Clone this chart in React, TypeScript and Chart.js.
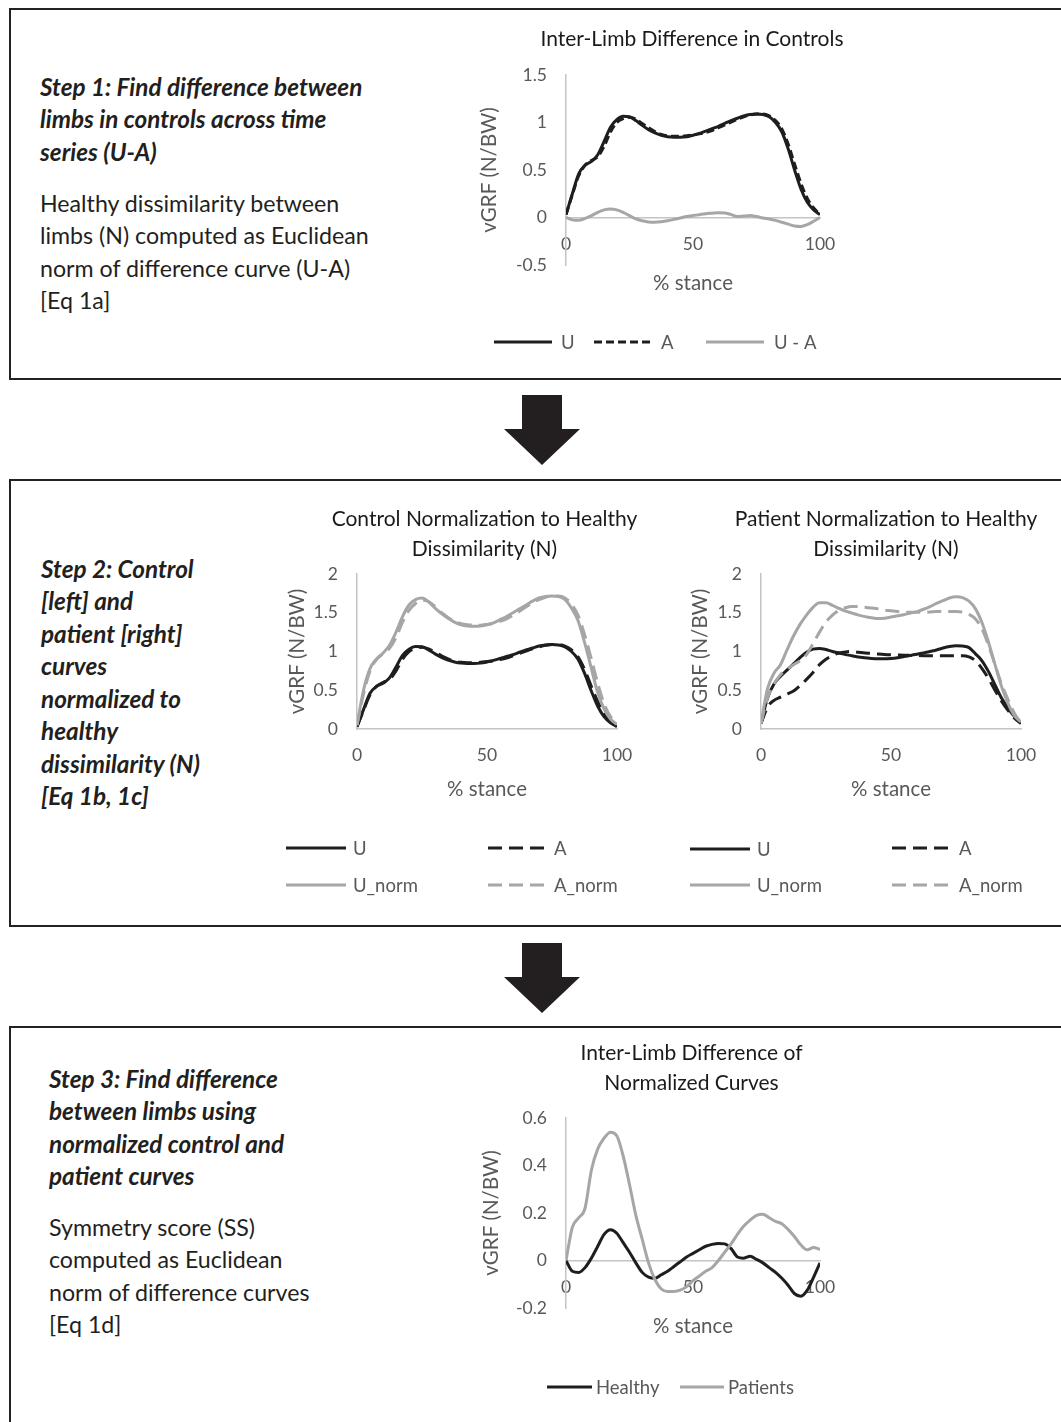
import React, { useEffect, useRef } from 'react';
import { Chart, registerables } from 'chart.js';

Chart.register(...registerables);

// ---------------- data ----------------
const stance = [0, 2.5, 5, 7.5, 10, 12.5, 15, 17.5, 20, 22.5, 25, 27.5, 30, 32.5, 35, 37.5, 40, 42.5, 45, 47.5, 50, 52.5, 55, 57.5, 60, 62.5, 65, 67.5, 70, 72.5, 75, 77.5, 80, 82.5, 85, 87.5, 90, 92.5, 95, 97.5, 100];
const xTicks = [0, 50, 100];
const yTicksStep1 = [-0.5, 0, 0.5, 1, 1.5];
const yTicksStep2 = [0, 0.5, 1, 1.5, 2];
const yTicksStep3 = [-0.2, 0, 0.2, 0.4, 0.6];

const ctrlU = [0.03, 0.25, 0.46, 0.55, 0.59, 0.66, 0.8, 0.95, 1.03, 1.065, 1.06, 1.02, 0.97, 0.925, 0.89, 0.865, 0.85, 0.845, 0.845, 0.85, 0.865, 0.885, 0.91, 0.935, 0.96, 0.99, 1.02, 1.045, 1.07, 1.085, 1.09, 1.085, 1.06, 1.0, 0.9, 0.72, 0.5, 0.3, 0.16, 0.08, 0.03];
const ctrlA = [0.03, 0.24, 0.44, 0.55, 0.6, 0.64, 0.75, 0.9, 1.0, 1.04, 1.055, 1.035, 0.99, 0.945, 0.905, 0.875, 0.86, 0.855, 0.855, 0.86, 0.87, 0.88, 0.895, 0.915, 0.945, 0.975, 1.005, 1.035, 1.06, 1.08, 1.09, 1.09, 1.07, 1.02, 0.93, 0.77, 0.56, 0.36, 0.2, 0.1, 0.03];
const ctrlDiff = [0, -0.025, -0.03, -0.01, 0.02, 0.055, 0.08, 0.09, 0.08, 0.055, 0.02, -0.015, -0.035, -0.048, -0.05, -0.045, -0.035, -0.02, -0.005, 0.01, 0.02, 0.03, 0.04, 0.045, 0.05, 0.048, 0.03, 0.01, 0.015, 0.02, 0.01, -0.005, -0.015, -0.03, -0.05, -0.07, -0.09, -0.095, -0.075, -0.04, 0];

const ctrlUNorm = [0.05, 0.5, 0.78, 0.9, 0.98, 1.08, 1.25, 1.45, 1.6, 1.67, 1.69, 1.64, 1.56, 1.49, 1.43, 1.38, 1.345, 1.33, 1.325, 1.33, 1.345, 1.37, 1.41, 1.45, 1.5, 1.55, 1.6, 1.65, 1.69, 1.71, 1.715, 1.71, 1.67, 1.56, 1.4, 1.12, 0.8, 0.48, 0.26, 0.13, 0.06];
const ctrlANorm = [0.05, 0.45, 0.75, 0.9, 0.97, 1.04, 1.18, 1.38, 1.53, 1.62, 1.66, 1.645, 1.58, 1.5, 1.44, 1.39, 1.36, 1.345, 1.34, 1.34, 1.35, 1.365, 1.39, 1.42, 1.47, 1.52, 1.575, 1.63, 1.67, 1.7, 1.715, 1.715, 1.69, 1.61, 1.47, 1.22, 0.92, 0.6, 0.33, 0.16, 0.07];

const patU = [0.07, 0.4, 0.58, 0.68, 0.76, 0.84, 0.92, 0.99, 1.03, 1.04, 1.025, 1.0, 0.98, 0.96, 0.945, 0.93, 0.92, 0.91, 0.905, 0.905, 0.91, 0.92, 0.935, 0.95, 0.965, 0.98, 1.0, 1.02, 1.045, 1.065, 1.075, 1.07, 1.05, 0.97, 0.88, 0.74, 0.57, 0.4, 0.27, 0.16, 0.08];
const patA = [0.07, 0.28, 0.37, 0.41, 0.45, 0.49, 0.56, 0.64, 0.73, 0.83, 0.9, 0.95, 0.98, 0.995, 1.0, 0.99, 0.98, 0.975, 0.968, 0.962, 0.958, 0.955, 0.952, 0.95, 0.948, 0.946, 0.945, 0.945, 0.945, 0.945, 0.945, 0.945, 0.93, 0.88, 0.78, 0.65, 0.5, 0.36, 0.24, 0.14, 0.07];
const patUNorm = [0.07, 0.52, 0.72, 0.83, 1.02, 1.2, 1.35, 1.47, 1.57, 1.63, 1.63, 1.595, 1.555, 1.52, 1.495, 1.47, 1.45, 1.435, 1.425, 1.43, 1.445, 1.46, 1.475, 1.495, 1.515, 1.545, 1.58, 1.62, 1.655, 1.69, 1.705, 1.695, 1.65, 1.55, 1.37, 1.12, 0.83, 0.55, 0.33, 0.17, 0.09];
const patANorm = [0.07, 0.4, 0.58, 0.7, 0.77, 0.83, 0.88, 0.96, 1.1, 1.25, 1.38, 1.47, 1.53, 1.565, 1.58, 1.58, 1.57, 1.56, 1.55, 1.535, 1.525, 1.515, 1.51, 1.505, 1.505, 1.505, 1.51, 1.515, 1.515, 1.515, 1.515, 1.51, 1.48, 1.42, 1.29, 1.08, 0.83, 0.58, 0.38, 0.2, 0.08];

const healthyDiff = [0, -0.045, -0.05, -0.03, 0.01, 0.06, 0.11, 0.13, 0.115, 0.075, 0.035, -0.01, -0.05, -0.07, -0.075, -0.06, -0.045, -0.025, -0.005, 0.015, 0.03, 0.045, 0.06, 0.068, 0.072, 0.07, 0.05, 0.015, 0.01, 0.018, 0.005, -0.01, -0.03, -0.05, -0.075, -0.105, -0.14, -0.15, -0.125, -0.07, -0.01];
const patientDiff = [0, 0.14, 0.18, 0.22, 0.38, 0.47, 0.515, 0.54, 0.525, 0.44, 0.32, 0.19, 0.09, -0.01, -0.08, -0.12, -0.13, -0.13, -0.125, -0.11, -0.085, -0.065, -0.045, -0.03, 0.0, 0.035, 0.07, 0.11, 0.145, 0.17, 0.19, 0.195, 0.18, 0.165, 0.155, 0.13, 0.1, 0.065, 0.045, 0.055, 0.046];

// ---------------- styles ----------------
const FONT = 'Lato, "Open Sans", sans-serif';
const BLACK = '#1e1e1e';
const GRAY = '#a6a6a6';
const AXIS = '#c4c4c4';
const TICK = '#595959';
const TEXT = '#231f20';
const AXIS_TITLE_SIZE = 20.5;
const AXIS_TITLE_HALF = (AXIS_TITLE_SIZE * 1.2) / 2;

type DS = { label: string; values: number[]; color: string; dash?: number[] };
type LegendItem = { ds: number; x: number; y: number; len: number; gap: number };
type Spec = {
  datasets: DS[];
  title: string[];
  titleY: number;
  titleDx: number;
  pad: { left: number; right: number; top: number; bottom: number };
  yMin: number;
  yMax: number;
  yTicks: number[];
  yWidth: number;
  yTitleCenter: number;
  xAtZero: boolean;
  xTitleOffset: number;
  legend: LegendItem[];
};

function legendPlugin(items: LegendItem[]) {
  return {
    id: 'manualLegend',
    afterDraw(chart: any) {
      const ctx = chart.ctx;
      items.forEach((it) => {
        const ds = chart.data.datasets[it.ds];
        ctx.save();
        ctx.strokeStyle = ds.borderColor;
        ctx.lineWidth = ds.borderWidth;
        ctx.setLineDash(ds.borderDash || []);
        ctx.beginPath();
        ctx.moveTo(it.x, it.y);
        ctx.lineTo(it.x + it.len, it.y);
        ctx.stroke();
        ctx.setLineDash([]);
        ctx.fillStyle = TICK;
        ctx.font = `18.5px ${FONT}`;
        ctx.textBaseline = 'middle';
        ctx.textAlign = 'left';
        ctx.fillText(ds.label, it.x + it.len + it.gap, it.y + 1);
        ctx.restore();
      });
    },
  };
}

// chart title centred over the plot area (no width squeezing)
function titlePlugin(lines: string[], y0: number, dx: number) {
  return {
    id: 'centerTitle',
    afterDraw(chart: any) {
      const ctx = chart.ctx;
      const cx = (chart.chartArea.left + chart.chartArea.right) / 2 + dx;
      ctx.save();
      ctx.fillStyle = '#1a1a1a';
      ctx.font = `21px ${FONT}`;
      ctx.textAlign = 'center';
      ctx.textBaseline = 'middle';
      lines.forEach((l, i) => ctx.fillText(l, cx, y0 + i * 30));
      ctx.restore();
    },
  };
}

function buildConfig(spec: Spec): any {
  return {
    type: 'line',
    data: {
      datasets: spec.datasets.map((d, i) => ({
        label: d.label,
        data: stance.map((x, j) => ({ x, y: d.values[j] })),
        borderColor: d.color,
        backgroundColor: d.color,
        borderWidth: 3,
        borderDash: d.dash || [],
        borderJoinStyle: 'round',
        pointRadius: 0,
        cubicInterpolationMode: 'monotone',
        fill: false,
        order: -i,
      })),
    },
    options: {
      responsive: false,
      animation: false,
      devicePixelRatio: 1,
      layout: { padding: spec.pad },
      plugins: {
        legend: { display: false },
        tooltip: { enabled: false },
        title: { display: false },
      },
      scales: {
        x: {
          type: 'linear',
          min: 0,
          max: 100,
          position: spec.xAtZero ? { y: 0 } : 'bottom',
          afterBuildTicks: (s: any) => {
            s.ticks = xTicks.map((v) => ({ value: v }));
          },
          afterFit: (s: any) => {
            s.height = spec.xTitleOffset + AXIS_TITLE_HALF;
          },
          grid: { display: false, drawTicks: false },
          border: { display: true, color: AXIS, width: 1.5 },
          ticks: {
            color: TICK,
            font: { family: FONT, size: 17.5 },
            padding: 16,
            maxRotation: 0,
            autoSkip: false,
            callback: (v: any) => String(v),
          },
          title: {
            display: true,
            text: '% stance',
            color: TICK,
            font: { family: FONT, size: AXIS_TITLE_SIZE, lineHeight: 1.2 },
            padding: { top: 0, bottom: 0 },
          },
        },
        y: {
          type: 'linear',
          min: spec.yMin,
          max: spec.yMax,
          position: 'left',
          afterBuildTicks: (s: any) => {
            s.ticks = spec.yTicks.map((v) => ({ value: v }));
          },
          afterFit: (s: any) => {
            s.width = spec.yWidth;
          },
          grid: { display: false, drawTicks: false },
          border: { display: true, color: AXIS, width: 1.5 },
          ticks: {
            color: TICK,
            font: { family: FONT, size: 17.5 },
            padding: 19,
            autoSkip: false,
            callback: (v: any) => String(v),
          },
          title: {
            display: true,
            text: 'vGRF (N/BW)',
            color: TICK,
            font: { family: FONT, size: AXIS_TITLE_SIZE, lineHeight: 1.2 },
            padding: { top: spec.yTitleCenter - AXIS_TITLE_HALF, bottom: 0 },
          },
        },
      },
    },
    plugins: [titlePlugin(spec.title, spec.titleY, spec.titleDx), legendPlugin(spec.legend)],
  };
}

function ChartCanvas(props: { left: number; top: number; width: number; height: number; spec: Spec }) {
  const ref = useRef<HTMLCanvasElement | null>(null);
  useEffect(() => {
    if (!ref.current) return;
    const chart = new Chart(ref.current, buildConfig(props.spec));
    return () => chart.destroy();
  }, []);
  return (
    <canvas
      ref={ref}
      width={props.width}
      height={props.height}
      style={{ position: 'absolute', left: props.left, top: props.top, width: props.width, height: props.height }}
    />
  );
}

// chart specs (positions in canvas pixels)
const spec1: Spec = {
  datasets: [
    { label: 'U', values: ctrlU, color: BLACK },
    { label: 'A', values: ctrlA, color: BLACK, dash: [8, 4] },
    { label: 'U - A', values: ctrlDiff, color: GRAY },
  ],
  title: ['Inter-Limb Difference in Controls'],
  titleY: 19,
  titleDx: -1,
  pad: { left: 0, right: 40, top: 55, bottom: 100 },
  yMin: -0.5,
  yMax: 1.5,
  yTicks: yTicksStep1,
  yWidth: 106,
  yTitleCenter: 29,
  xAtZero: true,
  xTitleOffset: 66,
  legend: [
    { ds: 0, x: 34, y: 322, len: 58, gap: 9 },
    { ds: 1, x: 134, y: 322, len: 58, gap: 9 },
    { ds: 2, x: 246, y: 322, len: 58, gap: 10 },
  ],
};

const spec2L: Spec = {
  datasets: [
    { label: 'U', values: ctrlU, color: BLACK },
    { label: 'A', values: ctrlA, color: BLACK, dash: [14, 7] },
    { label: 'U_norm', values: ctrlUNorm, color: GRAY },
    { label: 'A_norm', values: ctrlANorm, color: GRAY, dash: [14, 7] },
  ],
  title: ['Control Normalization to Healthy', 'Dissimilarity (N)'],
  titleY: 19,
  titleDx: -2.5,
  pad: { left: 0, right: 33, top: 74, bottom: 181 - 60 - AXIS_TITLE_HALF },
  yMin: 0,
  yMax: 2,
  yTicks: yTicksStep2,
  yWidth: 87,
  yTitleCenter: 27,
  xAtZero: false,
  xTitleOffset: 60,
  legend: [
    { ds: 0, x: 16, y: 348, len: 60, gap: 7 },
    { ds: 1, x: 218, y: 348, len: 60, gap: 6 },
    { ds: 2, x: 16, y: 385, len: 60, gap: 7 },
    { ds: 3, x: 218, y: 385, len: 60, gap: 6 },
  ],
};

const spec2R: Spec = {
  datasets: [
    { label: 'U', values: patU, color: BLACK },
    { label: 'A', values: patA, color: BLACK, dash: [14, 7] },
    { label: 'U_norm', values: patUNorm, color: GRAY },
    { label: 'A_norm', values: patANorm, color: GRAY, dash: [14, 7] },
  ],
  title: ['Patient Normalization to Healthy', 'Dissimilarity (N)'],
  titleY: 19,
  titleDx: -5,
  pad: { left: 0, right: 34, top: 74, bottom: 181 - 60 - AXIS_TITLE_HALF },
  yMin: 0,
  yMax: 2,
  yTicks: yTicksStep2,
  yWidth: 86,
  yTitleCenter: 25,
  xAtZero: false,
  xTitleOffset: 60,
  legend: [
    { ds: 0, x: 15, y: 349, len: 60, gap: 7 },
    { ds: 1, x: 217, y: 348, len: 60, gap: 7 },
    { ds: 2, x: 15, y: 385, len: 60, gap: 7 },
    { ds: 3, x: 217, y: 385, len: 60, gap: 7 },
  ],
};

const spec3: Spec = {
  datasets: [
    { label: 'Healthy', values: healthyDiff, color: BLACK },
    { label: 'Patients', values: patientDiff, color: GRAY },
  ],
  title: ['Inter-Limb Difference of', 'Normalized Curves'],
  titleY: 18,
  titleDx: -1.5,
  pad: { left: 0, right: 40, top: 83, bottom: 102 },
  yMin: -0.2,
  yMax: 0.6,
  yTicks: yTicksStep3,
  yWidth: 106,
  yTitleCenter: 31,
  xAtZero: true,
  xTitleOffset: 66,
  legend: [
    { ds: 0, x: 87, y: 352, len: 45, gap: 4 },
    { ds: 1, x: 220, y: 352, len: 44, gap: 4 },
  ],
};

// ---------------- layout pieces ----------------
function Box(props: { top: number; height: number }) {
  return (
    <div
      style={{
        position: 'absolute',
        left: 9,
        top: props.top,
        width: 1100,
        height: props.height,
        border: '2px solid #222',
        boxSizing: 'border-box',
      }}
    />
  );
}

function Arrow(props: { top: number }) {
  const t = props.top;
  const pts = `522,${t} 562,${t} 562,${t + 34} 580,${t + 34} 542,${t + 70} 504,${t + 34} 522,${t + 34}`;
  return (
    <svg style={{ position: 'absolute', left: 0, top: 0 }} width={1061} height={1422}>
      <polygon points={pts} fill="#231f20" />
    </svg>
  );
}

function TextBlock(props: { left: number; top: number; lines: string[]; bold?: boolean }) {
  return (
    <div
      style={{
        position: 'absolute',
        left: props.left,
        top: props.top,
        fontFamily: FONT,
        fontSize: props.bold ? 24.3 : 23.2,
        lineHeight: '32.45px',
        color: TEXT,
        fontWeight: props.bold ? 700 : 400,
        fontStyle: props.bold ? 'italic' : 'normal',
        whiteSpace: 'nowrap',
      }}
    >
      {props.lines.map((l, i) => (
        <div key={i}>{l}</div>
      ))}
    </div>
  );
}

export default function App() {
  return (
    <div
      style={{
        position: 'absolute',
        left: 0,
        top: 0,
        width: 1061,
        height: 1422,
        overflow: 'hidden',
        background: '#fff',
      }}
    >
      <Box top={8} height={372} />
      <Box top={479} height={448} />
      <Box top={1026} height={500} />
      <Arrow top={395} />
      <Arrow top={943} />

      <TextBlock
        left={40}
        top={70.8}
        bold
        lines={['Step 1: Find difference between', 'limbs in controls across time', 'series (U-A)']}
      />
      <TextBlock
        left={40}
        top={186.8}
        lines={['Healthy dissimilarity between', 'limbs (N) computed as Euclidean', 'norm of difference curve (U-A)', '[Eq 1a]']}
      />
      <TextBlock
        left={41}
        top={552.8}
        bold
        lines={['Step 2: Control', '[left] and', 'patient [right]', 'curves', 'normalized to', 'healthy', 'dissimilarity (N)', '[Eq 1b, 1c]']}
      />
      <TextBlock
        left={49}
        top={1062.8}
        bold
        lines={['Step 3: Find difference', 'between limbs using', 'normalized control and', 'patient curves']}
      />
      <TextBlock
        left={49}
        top={1210.8}
        lines={['Symmetry score (SS)', 'computed as Euclidean', 'norm of difference curves', '[Eq 1d]']}
      />

      <ChartCanvas left={460} top={20} width={400} height={345} spec={spec1} />
      <ChartCanvas left={270} top={500} width={380} height={410} spec={spec2L} />
      <ChartCanvas left={675} top={500} width={380} height={410} spec={spec2R} />
      <ChartCanvas left={460} top={1035} width={400} height={375} spec={spec3} />
    </div>
  );
}
